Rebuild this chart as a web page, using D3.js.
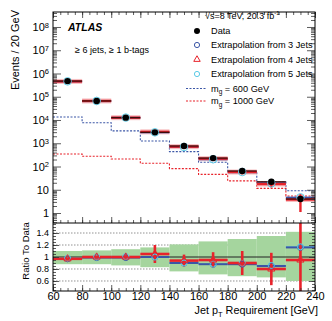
<!DOCTYPE html>
<html><head><meta charset="utf-8">
<script src="https://cdn.jsdelivr.net/npm/d3@7"></script>
<style>
body{margin:0;background:#fff}
svg{font-family:"Liberation Sans",Arial,sans-serif}
.tk .domain{display:none}
</style></head><body>
<svg id="chart" width="332" height="321"></svg>
<script>
const binEdges = [60,80,100,120,140,160,180,200,220,240];
const binMid = [70,90,110,130,150,170,190,210,230];
const dataEvents = [4.7e5,6.6e4,1.26e4,2.95e3,760,230,64,22,4.0];
const pred3 = [4.56e5,6.5e4,1.25e4,2.95e3,690,205,57,19,4.6];
const pred4 = [4.56e5,6.6e4,1.26e4,3.1e3,715,218,58,17.6,3.8];
const pred4Err = [9e3,1.3e3,380,460,75,30,12,5,2.7];
const pred5 = [4.6e5,6.6e4,1.27e4,2.95e3,690,205,58,19,4.7];
const sig600 = [1.35e4,7.6e3,3.4e3,1.25e3,435,152,54,21.5,9.1];
const sig1000 = [345,275,210,137,81,46,24,11.5,5.4];
const ratio3 = [0.97,0.99,0.99,1.0,0.9,0.88,0.88,0.85,1.16];
const ratio4 = [0.97,1.0,1.0,1.05,0.94,0.95,0.9,0.8,0.95];
const ratio4Err = [0.02,0.02,0.03,0.15,0.1,0.13,0.2,0.27,0.7];
const ratio5 = [0.98,1.0,1.01,1.0,0.9,0.88,0.9,0.86,1.17];
const ratio5Err = [0.02,0.02,0.03,0.05,0.05,0.07,0.08,0.12,0.12];
const bandLo = [0.88,0.88,0.86,0.83,0.76,0.71,0.68,0.66,0.6];
const bandHi = [1.1,1.11,1.13,1.16,1.21,1.26,1.3,1.35,1.42];
const xMajor = [60,80,100,120,140,160,180,200,220,240];
const xMinor = d3.range(60,241,5);
const logMajor = [1,10,1e2,1e3,1e4,1e5,1e6,1e7,1e8];
const ratioMajor = [0.6,0.8,1,1.2,1.4];
const ratioMinor = d3.range(0.45,1.56,0.05);

const svg = d3.select("#chart");
const L=53, R=315, T=12, M=223, B=291;
const x = d3.scaleLinear().domain([60,240]).range([L,R]);
const y = d3.scaleLog().domain([Math.pow(10,-0.43),Math.pow(10,8.645)]).range([M,T]);
const yr = d3.scaleLinear().domain([0.433,1.567]).range([B,M]);

const logMinor=[];
for(let d=-1;d<=8;d++) for(let m=2;m<=9;m++){const v=m*Math.pow(10,d); if(v>y.domain()[0]&&v<y.domain()[1]) logMinor.push(v);}

const red="#e8232b", blue="#3b56a6", cyan="#5ccbe6";

// clip paths
svg.append("clipPath").attr("id","cTop").append("rect").attr("x",L).attr("y",T).attr("width",R-L).attr("height",M-T);
svg.append("clipPath").attr("id","cBot").append("rect").attr("x",L).attr("y",M).attr("width",R-L).attr("height",B-M);

// ---------- ratio panel ----------
const rp = svg.append("g").attr("clip-path","url(#cBot)");
rp.selectAll(".grid").data([0.6,0.8,1.2,1.4]).enter().append("line")
  .attr("x1",L).attr("x2",R).attr("y1",d=>yr(d)).attr("y2",d=>yr(d))
  .attr("stroke","#777").attr("stroke-width",0.8).attr("stroke-dasharray","1.5,1.5");
rp.selectAll(".band").data(binMid).enter().append("rect")
  .attr("x",(d,i)=>x(binEdges[i])).attr("width",(d,i)=>x(binEdges[i+1])-x(binEdges[i]))
  .attr("y",(d,i)=>yr(bandHi[i])).attr("height",(d,i)=>yr(bandLo[i])-yr(bandHi[i]))
  .attr("fill","#a5d59e");
rp.append("line").attr("x1",L).attr("x2",R).attr("y1",yr(1)).attr("y2",yr(1)).attr("stroke","#222").attr("stroke-width",1);

function hbars(g,vals,col,w){
  g.selectAll(null).data(vals).enter().append("line")
    .attr("x1",(d,i)=>x(binEdges[i])).attr("x2",(d,i)=>x(binEdges[i+1]))
    .attr("y1",d=>d).attr("y2",d=>d).attr("stroke",col).attr("stroke-width",w);
}
function vbars(g,lo,hi,col,w){
  g.selectAll(null).data(binMid).enter().append("line")
    .attr("x1",d=>x(d)).attr("x2",d=>x(d))
    .attr("y1",(d,i)=>hi[i]).attr("y2",(d,i)=>lo[i]).attr("stroke",col).attr("stroke-width",w);
}
vbars(rp,ratio5.map((v,i)=>yr(v-ratio5Err[i])),ratio5.map((v,i)=>yr(v+ratio5Err[i])),cyan,1);
hbars(rp,ratio5.map(v=>yr(v)),cyan,1);
hbars(rp,ratio3.map(v=>yr(v)),blue,2);
vbars(rp,ratio4.map((v,i)=>yr(v-ratio4Err[i])),ratio4.map((v,i)=>yr(v+ratio4Err[i])),red,2.6);
hbars(rp,ratio4.map(v=>yr(v)),red,2.6);
rp.selectAll(null).data(ratio3).enter().append("circle")
  .attr("cx",(d,i)=>x(binMid[i])).attr("cy",d=>yr(d)).attr("r",3)
  .attr("fill","none").attr("stroke",blue).attr("stroke-width",1);
rp.selectAll(null).data(ratio5).enter().append("circle")
  .attr("cx",(d,i)=>x(binMid[i])).attr("cy",d=>yr(d)).attr("r",3)
  .attr("fill","none").attr("stroke",cyan).attr("stroke-width",1);
rp.selectAll(null).data(ratio4).enter().append("path")
  .attr("transform",(d,i)=>`translate(${x(binMid[i])},${yr(d)})`)
  .attr("d",d3.symbol(d3.symbolTriangle,22)).attr("fill","none").attr("stroke",red).attr("stroke-width",1);

// ---------- top panel ----------
const tp = svg.append("g").attr("clip-path","url(#cTop)");
const step = d3.line().x(d=>x(d[0])).y(d=>y(d[1])).curve(d3.curveStepAfter);
tp.append("path").attr("d",step(binEdges.map((e,i)=>[e,sig600[Math.min(i,8)]])))
  .attr("fill","none").attr("stroke",blue).attr("stroke-width",1.1).attr("stroke-dasharray","2,1.5");
tp.append("path").attr("d",step(binEdges.map((e,i)=>[e,sig1000[Math.min(i,8)]])))
  .attr("fill","none").attr("stroke",red).attr("stroke-width",1.1).attr("stroke-dasharray","2,1.5");

tp.selectAll(".pink").data(pred4).enter().append("rect")
  .attr("x",(d,i)=>x(binEdges[i])).attr("width",(d,i)=>x(binEdges[i+1])-x(binEdges[i]))
  .attr("y",d=>y(d)-2.5).attr("height",5)
  .attr("fill","#f5b3b5").attr("opacity",0.85);
hbars(tp,pred3.map(v=>y(v)),blue,2);
vbars(tp,pred4.map((v,i)=>y(Math.max(v-pred4Err[i],0.3))),pred4.map((v,i)=>y(v+pred4Err[i])),red,2.4);
hbars(tp,pred4.map(v=>y(v)),red,2.4);
hbars(tp,dataEvents.map(v=>y(v)),"#3a0c0c",1.3);
tp.selectAll(null).data(pred5).enter().append("circle")
  .attr("cx",(d,i)=>x(binMid[i])).attr("cy",d=>y(d)).attr("r",3.8)
  .attr("fill","none").attr("stroke",cyan).attr("stroke-width",1);
tp.selectAll(null).data(dataEvents).enter().append("circle")
  .attr("cx",(d,i)=>x(binMid[i])).attr("cy",d=>y(d)).attr("r",3.2).attr("fill","#000");

// ---------- axes / ticks ----------
function tk(axis,tx,ty){return svg.append("g").attr("class","tk").attr("transform",`translate(${tx},${ty})`).call(axis);}
const noLab = "";
// top panel y
tk(d3.axisLeft(y).tickValues(logMinor).tickSize(-4).tickFormat(noLab),L,0);
tk(d3.axisRight(y).tickValues(logMinor).tickSize(-4).tickFormat(noLab),R,0);
tk(d3.axisRight(y).tickValues(logMajor).tickSize(-8).tickFormat(noLab),R,0);
const ly = tk(d3.axisLeft(y).tickValues(logMajor).tickSize(-8).tickPadding(4).tickFormat(d=>d),L,0);
ly.selectAll("text").attr("font-size",11).attr("font-family","Liberation Sans, Arial").each(function(d){
  if(d>=100){
    const t=d3.select(this).text("10");
    t.append("tspan").attr("font-size",7.5).attr("dy","-0.45em").text(Math.round(Math.log10(d)));
  }
});
// x ticks
[[T,"axisTop"],[M,"axisBottom"],[B,"axisBottom"]].forEach(([yy,a])=>{
  tk(d3[a](x).tickValues(xMinor).tickSize(-3).tickFormat(noLab),0,yy);
});
tk(d3.axisTop(x).tickValues(xMajor).tickSize(-6).tickFormat(noLab),0,T);
tk(d3.axisBottom(x).tickValues(xMajor).tickSize(-6).tickFormat(noLab),0,M);
const lx = tk(d3.axisBottom(x).tickValues(xMajor).tickSize(-6).tickPadding(1),0,B);
lx.selectAll("text").attr("font-size",11).attr("font-family","Liberation Sans, Arial");
// ratio y
tk(d3.axisLeft(yr).tickValues(ratioMinor).tickSize(-3).tickFormat(noLab),L,0);
tk(d3.axisRight(yr).tickValues(ratioMinor).tickSize(-3).tickFormat(noLab),R,0);
tk(d3.axisRight(yr).tickValues(ratioMajor).tickSize(-6).tickFormat(noLab),R,0);
const lr = tk(d3.axisLeft(yr).tickValues(ratioMajor).tickSize(-6).tickPadding(4).tickFormat(d=>d),L,0);
lr.selectAll("text").attr("font-size",9).attr("font-family","Liberation Sans, Arial");
svg.selectAll(".tk line").attr("stroke","#333").attr("stroke-width",0.8);

// frame
svg.append("rect").attr("x",L).attr("y",T).attr("width",R-L).attr("height",B-T)
  .attr("fill","none").attr("stroke","#000").attr("stroke-width",1);
svg.append("line").attr("x1",L).attr("x2",R).attr("y1",M).attr("y2",M).attr("stroke","#000").attr("stroke-width",1);

// ---------- labels ----------
svg.append("text").attr("transform","translate(19,10) rotate(-90)").attr("text-anchor","end")
  .attr("font-size",11).text("Events / 20 GeV");
svg.append("text").attr("transform","translate(29,251) rotate(-90)").attr("text-anchor","middle")
  .attr("font-size",9.5).text("Ratio To Data");
const xt = svg.append("text").attr("x",318).attr("y",314).attr("text-anchor","end").attr("font-size",10.8).text("Jet p");
xt.append("tspan").attr("font-size",7.5).attr("dy",2.5).text("T");
xt.append("tspan").attr("dy",-2.5).text(" Requirement [GeV]");

svg.append("text").attr("x",68).attr("y",31).attr("font-size",10.5).attr("font-weight","bold")
  .attr("font-style","italic").text("ATLAS");
svg.append("text").attr("x",75).attr("y",53).attr("font-size",9).text("\u2265 6 jets, \u2265 1 b-tags");

const sq = svg.append("text").attr("x",205).attr("y",18.5).attr("font-size",9).text("\u221As=8 TeV, 20.3 fb");
sq.append("tspan").attr("font-size",6).attr("dy",-4).text("-1");

// legend
const lg = svg.append("g").attr("font-size",9.2);
const legY = [31,45,59.5,74,88.5,101];
const legT = ["Data","Extrapolation from 3 Jets","Extrapolation from 4 Jets","Extrapolation from 5 Jets"];
legT.forEach((t,i)=>lg.append("text").attr("x",211).attr("y",legY[i]).attr("dy","0.35em").text(t));
lg.append("circle").attr("cx",197).attr("cy",legY[0]).attr("r",3).attr("fill","#000");
lg.append("circle").attr("cx",197).attr("cy",legY[1]).attr("r",2.6).attr("fill","none").attr("stroke",blue);
lg.append("path").attr("transform",`translate(197,${legY[2]})`).attr("d",d3.symbol(d3.symbolTriangle,18)).attr("fill","none").attr("stroke",red);
lg.append("circle").attr("cx",197).attr("cy",legY[3]).attr("r",2.6).attr("fill","none").attr("stroke",cyan);
[[blue,"600"],[red,"1000"]].forEach(([c,m],k)=>{
  const yy=legY[4+k];
  lg.append("line").attr("x1",186).attr("x2",206).attr("y1",yy).attr("y2",yy).attr("stroke",c).attr("stroke-width",1.1).attr("stroke-dasharray","2,1.5");
  const t=lg.append("text").attr("x",211).attr("y",yy).attr("dy","0.35em").text("m");
  t.append("tspan").attr("font-size",6.5).attr("dy",2.5).text("g");
  t.append("tspan").attr("dy",-2.5).text(` = ${m} GeV`);
});
</script></body></html>
